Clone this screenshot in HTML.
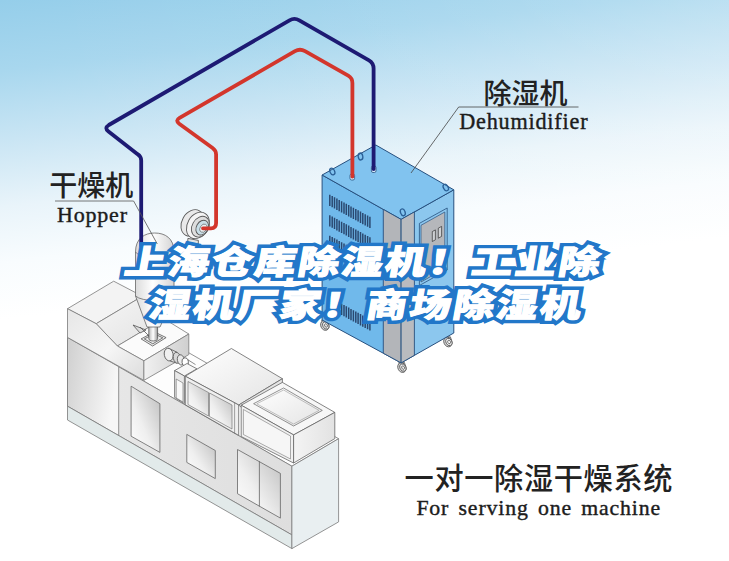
<!DOCTYPE html>
<html lang="zh-CN">
<head>
<meta charset="utf-8">
<title>上海仓库除湿机！工业除湿机厂家！商场除湿机</title>
<style>
html,body{margin:0;padding:0;background:#fff;}
body{width:729px;height:561px;overflow:hidden;position:relative;font-family:"Liberation Sans","Noto Sans CJK SC",sans-serif;}
#stage{position:absolute;left:0;top:0;width:729px;height:561px;overflow:hidden;
  background:
    linear-gradient(90deg, rgba(255,255,255,0) 0%, rgba(255,255,255,0.02) 40%, rgba(255,255,255,0.08) 70%, rgba(255,255,255,0.18) 100%),
    linear-gradient(173.55deg, #95ceea 0px, #a8d7ee 70px, #c9e5f4 139px, #e9f4fa 206px, #f8fcfe 261px, #ffffff 318px);}
svg{position:absolute;left:0;top:0;}
.cn{font-family:"Liberation Sans","Noto Sans CJK SC",sans-serif;fill:#222;}
.en{font-family:"Liberation Serif","Noto Serif CJK SC",serif;fill:#1c1c1c;stroke:#1c1c1c;stroke-width:0.4px;}
.title{position:absolute;left:0;top:0;width:729px;height:0;margin:0;
  font-family:"Liberation Sans","Noto Sans CJK SC",sans-serif;font-weight:900;font-size:33.3px;line-height:44px;
  letter-spacing:1.7px;color:#fff;paint-order:stroke fill;white-space:nowrap;}
.title span{display:block;position:absolute;left:0;width:729px;height:44px;text-align:center;text-indent:1.7px;
  transform:skewX(-10deg) scaleX(1.24);transform-origin:364.5px 22px;}
.title .l1{top:241px;left:-1.8px;}
.title .l2{top:284px;left:0.5px;}
.t-out{-webkit-text-stroke:7.9px #2277c9;}
.t-in{-webkit-text-stroke:0.9px #fff;}
</style>
</head>
<body>
<div id="stage">
<svg width="729" height="561" viewBox="0 0 729 561">
<defs>
<linearGradient id="gFront" x1="0" y1="0" x2="1" y2="0"><stop offset="0" stop-color="#e9e9e9"/><stop offset="1" stop-color="#dedede"/></linearGradient>
<linearGradient id="gPanelL" x1="0" y1="0" x2="1" y2="0.3"><stop offset="0" stop-color="#cfcfcf"/><stop offset="1" stop-color="#f7f7f7"/></linearGradient>
<linearGradient id="gDoor" x1="1" y1="0" x2="0" y2="1"><stop offset="0" stop-color="#bbbbbb"/><stop offset="0.6" stop-color="#efefef"/><stop offset="1" stop-color="#ffffff"/></linearGradient>
<linearGradient id="gSlope" x1="0" y1="0" x2="1" y2="1"><stop offset="0" stop-color="#f6f6f6"/><stop offset="1" stop-color="#e2e2e2"/></linearGradient>
<linearGradient id="gHouse" x1="0" y1="0" x2="1" y2="1"><stop offset="0" stop-color="#e6e6e6"/><stop offset="0.55" stop-color="#f6f6f6"/><stop offset="1" stop-color="#dcdcdc"/></linearGradient>
<linearGradient id="gEnd" x1="0" y1="0" x2="1" y2="0"><stop offset="0" stop-color="#f1f1f1"/><stop offset="1" stop-color="#cfcfcf"/></linearGradient>
<linearGradient id="gEnd2" x1="0" y1="0" x2="1" y2="0"><stop offset="0" stop-color="#f4f4f4"/><stop offset="1" stop-color="#e2e2e2"/></linearGradient>
<linearGradient id="gTop" x1="0" y1="0" x2="1" y2="1"><stop offset="0" stop-color="#ffffff"/><stop offset="1" stop-color="#e4e4e4"/></linearGradient>
<linearGradient id="gNeck" x1="0" y1="0" x2="1" y2="0"><stop offset="0" stop-color="#bbb"/><stop offset="0.5" stop-color="#fff"/><stop offset="1" stop-color="#999"/></linearGradient>
<linearGradient id="gHop" x1="0" y1="0" x2="1" y2="0"><stop offset="0" stop-color="#dcdcdc"/><stop offset="0.45" stop-color="#ffffff"/><stop offset="1" stop-color="#d4d4d4"/></linearGradient>
</defs>
<g id="machine"><polygon points="67.5,337.4 291.9,466.2 338.6,438.7 114.2,310.0" fill="#fdfdfd" stroke="#7a7a7a" stroke-width="0.8" stroke-linejoin="round" />
<polygon points="67.5,337.4 291.9,466.2 291.9,534.9 67.5,406.2" fill="url(#gFront)" stroke="#7a7a7a" stroke-width="0.8" stroke-linejoin="round" />
<polygon points="67.5,337.4 118.7,366.7 118.7,435.5 67.5,406.2" fill="url(#gPanelL)" stroke="#7a7a7a" stroke-width="0.8" stroke-linejoin="round" />
<polygon points="67.5,406.2 291.9,534.9 291.9,548.6 67.5,420.0" fill="#e2eaea" stroke="#7a7a7a" stroke-width="0.8" stroke-linejoin="round" />
<polygon points="291.9,466.2 338.6,438.7 338.6,521.9 291.9,548.6" fill="#e9eff1" stroke="#7a7a7a" stroke-width="0.8" stroke-linejoin="round" />
<polygon points="131.1,386.2 159.9,403.7 159.9,452.4 131.1,436.2" fill="url(#gDoor)" stroke="#666" stroke-width="0.8" stroke-linejoin="round" />
<polygon points="186.8,434.4 215.3,450.5 215.3,478.6 186.8,462.4" fill="url(#gDoor)" stroke="#666" stroke-width="0.8" stroke-linejoin="round" />
<polygon points="237.5,449.5 280.4,473.4 280.4,518.1 237.5,493.7" fill="url(#gDoor)" stroke="#666" stroke-width="0.8" stroke-linejoin="round" />
<polyline points="259.4,461.6 259.4,506.2" fill="none" stroke="#666" stroke-width="0.8" stroke-linejoin="round" stroke-linecap="round" />
<polygon points="67.5,308.7 113.7,281.2 142.4,296.2 96.2,323.7" fill="#f3f3f3" stroke="#7a7a7a" stroke-width="0.8" stroke-linejoin="round" />
<polygon points="96.2,323.7 142.4,296.2 163.6,318.5 117.4,346.0" fill="url(#gSlope)" stroke="#7a7a7a" stroke-width="0.8" stroke-linejoin="round" />
<polygon points="117.4,346.0 163.6,318.5 188.8,334.0 143.9,360.8" fill="#fbfbfb" stroke="#7a7a7a" stroke-width="0.8" stroke-linejoin="round" />
<polygon points="67.5,308.7 96.2,323.7 117.4,346.0 143.9,360.8 143.9,380.4 67.5,337.4" fill="url(#gHouse)" stroke="#7a7a7a" stroke-width="0.8" stroke-linejoin="round" />
<polygon points="143.9,360.8 188.8,334.0 188.8,354.6 143.9,380.4" fill="url(#gEnd)" stroke="#7a7a7a" stroke-width="0.8" stroke-linejoin="round" />
<g stroke="#5c5c5c" stroke-width="0.85" fill="#e3e3e3"><path d="M167.2,348.6 L177.2,352.6 L177.2,363.2 L169.6,360.7 Z" stroke="none"/><path d="M168.6,348.3 L177.4,352.4 M170,360.9 L176.8,363.2" fill="none"/><ellipse cx="168.7" cy="354.6" rx="4.4" ry="6.4" fill="#f0f0f0" transform="rotate(-12 168.7 354.6)"/><ellipse cx="176.9" cy="357.8" rx="3.6" ry="5.5" fill="#d8d8d8" transform="rotate(-12 176.9 357.8)"/><ellipse cx="180.9" cy="359.9" rx="3.5" ry="5.2" fill="#e9e9e9" transform="rotate(-12 180.9 359.9)"/><ellipse cx="185.2" cy="361.9" rx="3.2" ry="4" fill="#ffffff" transform="rotate(-12 185.2 361.9)"/><path d="M187.6,359.6 L195.5,364.6 M187.2,364.6 L194,368.6" fill="none" stroke-width="0.7"/></g>
<polygon points="174.6,370.6 187.0,363.5 196.9,368.8 184.4,376.0" fill="#f6f6f6" stroke="#666" stroke-width="0.8" stroke-linejoin="round" />
<polygon points="174.6,370.6 184.4,376.0 184.4,403.6 174.6,397.4" fill="#e9e9e9" stroke="#666" stroke-width="0.8" stroke-linejoin="round" />
<polygon points="176.2,379.0 183.0,383.0 183.0,402.0 176.2,398.0" fill="#f8f8f8" stroke="#666" stroke-width="0.6" stroke-linejoin="round" />
<polygon points="185.3,376.2 231.4,348.5 282.4,378.7 238.7,405.0" fill="url(#gTop)" stroke="#666" stroke-width="0.8" stroke-linejoin="round" />
<polygon points="185.3,376.2 238.7,405.0 238.7,435.4 185.3,404.8" fill="#efefef" stroke="#666" stroke-width="0.8" stroke-linejoin="round" />
<polygon points="188.0,381.5 208.5,392.5 208.5,416.0 188.0,404.5" fill="url(#gDoor)" stroke="#666" stroke-width="0.6" stroke-linejoin="round" />
<polygon points="209.5,393.0 232.0,405.0 232.0,429.0 209.5,416.5" fill="url(#gDoor)" stroke="#666" stroke-width="0.6" stroke-linejoin="round" />
<polyline points="234.6,403.0 234.6,433.0" fill="none" stroke="#666" stroke-width="0.6" stroke-linejoin="round" stroke-linecap="round" />
<polygon points="238.7,405.0 282.4,378.7 282.4,384.0 241.5,407.5" fill="#e4e4e4" stroke="#666" stroke-width="0.8" stroke-linejoin="round" />
<polygon points="241.2,405.2 282.4,382.4 334.8,412.4 293.6,434.9" fill="#f7f7f7" stroke="#666" stroke-width="0.8" stroke-linejoin="round" />
<polygon points="253.6,403.7 283.6,388.0 322.3,410.4 293.6,426.0" fill="url(#gTop)" stroke="#666" stroke-width="0.7" stroke-linejoin="round" />
<polygon points="256.8,403.8 283.6,390.0 319.0,410.4 293.6,424.0" fill="none" stroke="#888" stroke-width="0.5" stroke-linejoin="round" />
<polygon points="241.2,405.2 293.6,434.9 293.6,463.0 241.2,436.5" fill="#f1f1f1" stroke="#666" stroke-width="0.8" stroke-linejoin="round" />
<polygon points="243.4,409.5 290.5,436.0 290.5,459.0 243.4,434.5" fill="#f6f6f6" stroke="#777" stroke-width="0.6" stroke-linejoin="round" />
<polygon points="293.6,434.9 334.8,412.4 334.8,438.6 293.6,463.0" fill="url(#gEnd2)" stroke="#666" stroke-width="0.8" stroke-linejoin="round" />
<g stroke="#555" stroke-width="0.8" fill="#ededed"><polygon points="141.1,338.9 154.4,331.9 166.1,337.6 152.6,346"/><polygon points="144.3,338.9 154.2,333.8 162.8,337.8 152.8,343.8"/><path d="M148.8,326 L148.8,338.5 A4.3,2.4 0 0 0 157.6,338.5 L157.6,326 Z" fill="url(#gNeck)"/><path d="M133,325 L146,330 L140,333 Z" fill="#ddd"/><path d="M140,327 L149,336" /></g>
<g stroke="#666" stroke-width="0.8"><path d="M135.5,252 C135.5,238 145,233 154.6,233 C165,233 174,238 174,252 L174,296 L160,327 L147,327 L135.5,296 Z" fill="url(#gHop)"/><path d="M135.5,252 C140,259 169,259 174,252" fill="none"/><path d="M135.5,296 C142,302 167,302 174,296" fill="none"/></g></g>
<g id="dehum"><g stroke="#555" stroke-width="0.8"><path d="M321.6,320.3 L327.3,320.3 L328.6,324.5 L322.8,324.5 Z" fill="#cfcfcf"/><ellipse cx="324.8" cy="325.5" rx="4" ry="5" fill="#d4d4d4" transform="rotate(-25 324.8 325.5)"/><ellipse cx="325.7" cy="325.9" rx="2.9" ry="3.8" fill="#efefef" transform="rotate(-25 324.8 325.5)"/><ellipse cx="325.90000000000003" cy="326.0" rx="1.3" ry="1.8" fill="#fff" transform="rotate(-25 324.8 325.5)"/></g>
<g stroke="#555" stroke-width="0.8"><path d="M398.7,362.40000000000003 L404.4,362.40000000000003 L405.7,366.6 L399.9,366.6 Z" fill="#cfcfcf"/><ellipse cx="401.9" cy="367.6" rx="4" ry="5" fill="#d4d4d4" transform="rotate(-25 401.9 367.6)"/><ellipse cx="402.79999999999995" cy="368.0" rx="2.9" ry="3.8" fill="#efefef" transform="rotate(-25 401.9 367.6)"/><ellipse cx="403.0" cy="368.1" rx="1.3" ry="1.8" fill="#fff" transform="rotate(-25 401.9 367.6)"/></g>
<g stroke="#555" stroke-width="0.8"><path d="M444.7,336.8 L450.4,336.8 L451.7,341 L445.9,341 Z" fill="#cfcfcf"/><ellipse cx="447.9" cy="342" rx="4" ry="5" fill="#d4d4d4" transform="rotate(-25 447.9 342)"/><ellipse cx="448.79999999999995" cy="342.4" rx="2.9" ry="3.8" fill="#efefef" transform="rotate(-25 447.9 342)"/><ellipse cx="449.0" cy="342.5" rx="1.3" ry="1.8" fill="#fff" transform="rotate(-25 447.9 342)"/></g>
<polygon points="322.1,175.0 401.1,219.4 401.1,362.9 322.1,320.0" fill="#70b9eb" stroke="#27507f" stroke-width="1" stroke-linejoin="round" />
<polygon points="401.1,219.4 453.8,189.8 453.8,333.0 401.1,362.9" fill="#8cc7ee" stroke="#27507f" stroke-width="1" stroke-linejoin="round" />
<polygon points="322.1,175.0 375.8,145.0 453.8,189.8 401.1,219.4" fill="#81c3ef" stroke="#27507f" stroke-width="1" stroke-linejoin="round" />
<polygon points="383.3,209.4 401.1,219.4 401.1,362.9 383.3,353.2" fill="#b3b5b9" stroke="#27507f" stroke-width="0.9" stroke-linejoin="round" />
<polygon points="401.1,219.4 414.4,211.9 414.4,355.3 401.1,362.9" fill="#b9bbbf" stroke="#27507f" stroke-width="0.9" stroke-linejoin="round" />
<polygon points="419.4,223.4 447.2,208.0 447.2,270.0 419.4,285.5" fill="#8cc7ee" stroke="#27507f" stroke-width="0.8" stroke-linejoin="round" />
<polygon points="421.0,225.3 444.8,212.0 444.8,268.5 421.0,282.0" fill="#b5b7bb" stroke="#27507f" stroke-width="0.7" stroke-linejoin="round" />
<polygon points="432.3,231.6 435.4,229.9 435.4,239.8 432.3,241.5" fill="#cfd1d4" stroke="#333" stroke-width="0.7" stroke-linejoin="round" />
<polygon points="438.3,228.2 441.6,226.4 441.6,236.4 438.3,238.2" fill="#cfd1d4" stroke="#333" stroke-width="0.7" stroke-linejoin="round" />
<path d="M329.8,194.7v11.3 M332.2,196.0v11.3 M334.5,197.3v11.3 M336.9,198.6v11.3 M339.2,199.9v11.3 M341.6,201.2v11.3 M344.0,202.5v11.3 M346.3,203.8v11.3 M348.7,205.1v11.3 M351.0,206.4v11.3 M353.4,207.7v11.3 M355.8,209.0v11.3 M358.1,210.3v11.3 M360.5,211.6v11.3 M362.8,212.9v11.3 M365.2,214.2v11.3 M367.6,215.5v11.3 M369.9,216.8v11.3 M329.8,215.2v11.3 M332.2,216.5v11.3 M334.5,217.8v11.3 M336.9,219.1v11.3 M339.2,220.4v11.3 M341.6,221.7v11.3 M344.0,223.0v11.3 M346.3,224.3v11.3 M348.7,225.6v11.3 M351.0,226.9v11.3 M353.4,228.2v11.3 M355.8,229.5v11.3 M358.1,230.8v11.3 M360.5,232.1v11.3 M362.8,233.4v11.3 M365.2,234.7v11.3 M367.6,236.0v11.3 M369.9,237.3v11.3 M329.8,235.7v11.3 M332.2,237.0v11.3 M334.5,238.3v11.3 M336.9,239.6v11.3 M339.2,240.9v11.3 M341.6,242.2v11.3 M344.0,243.5v11.3 M346.3,244.8v11.3 M348.7,246.1v11.3 M351.0,247.4v11.3 M353.4,248.7v11.3 M355.8,250.0v11.3 M358.1,251.3v11.3 M360.5,252.6v11.3 M362.8,253.9v11.3 M365.2,255.2v11.3 M367.6,256.5v11.3 M369.9,257.8v11.3 M329.8,297.2v11.3 M332.2,298.5v11.3 M334.5,299.8v11.3 M336.9,301.1v11.3 M339.2,302.4v11.3 M341.6,303.7v11.3 M344.0,305.0v11.3 M346.3,306.3v11.3 M348.7,307.6v11.3 M351.0,308.9v11.3 M353.4,310.2v11.3 M355.8,311.5v11.3 M358.1,312.8v11.3 M360.5,314.1v11.3 M362.8,315.4v11.3 M365.2,316.7v11.3 M367.6,318.0v11.3 M369.9,319.3v11.3" stroke="#2a4870" stroke-width="1.5" fill="none"/>
<ellipse cx="332.3" cy="171.5" rx="2.3" ry="3.5" fill="none" stroke="#2a5f96" stroke-width="1.3" transform="rotate(-25 332.3 171.5)"/>
<ellipse cx="360.5" cy="156.5" rx="2.3" ry="3.5" fill="none" stroke="#2a5f96" stroke-width="1.3" transform="rotate(-10 360.5 156.5)"/>
<ellipse cx="402.8" cy="212.3" rx="2.3" ry="3.5" fill="none" stroke="#2a5f96" stroke-width="1.3" transform="rotate(-20 402.8 212.3)"/>
<ellipse cx="445.8" cy="187.5" rx="2.3" ry="3.5" fill="none" stroke="#2a5f96" stroke-width="1.3" transform="rotate(-30 445.8 187.5)"/>
<rect x="350" y="174" width="4.6" height="6" rx="1.6" fill="#d6ecfa" stroke="#27507f" stroke-width="0.8"/>
<rect x="371.4" y="166" width="4.6" height="6.5" rx="1.6" fill="#d6ecfa" stroke="#27507f" stroke-width="0.8"/></g>
<g id="blower" stroke="#5a5a5a" stroke-width="0.9" transform="translate(2.4,0.4)"><path d="M185.5,238 L185,250 L195.5,250 L196,240 Z" fill="#e4e4e4"/><ellipse cx="190" cy="222.5" rx="10.5" ry="14" fill="#e9e9e9" transform="rotate(30 190 222.5)"/><path d="M181.2,229.8 L187.5,233.6 L207.3,221.2 L199.5,213.2 Z" fill="#e9e9e9" stroke="none"/><ellipse cx="195.5" cy="225" rx="10.5" ry="14" fill="#f4f4f4" transform="rotate(30 195.5 225)"/><ellipse cx="198" cy="226.3" rx="8.2" ry="11" fill="#dedede" transform="rotate(30 198 226.3)"/><ellipse cx="199.8" cy="227.2" rx="5.8" ry="7.8" fill="#c9dfe8" transform="rotate(30 199.8 227.2)"/><ellipse cx="201" cy="227.8" rx="3.2" ry="4.4" fill="#e8f2f5" stroke-width="0.6" transform="rotate(30 201 227.8)"/></g>
<path d="M141.2,246 L141.2,160.5 Q141.2,156.5 137.6,154.2 L108.5,131.5 Q104,128 108.8,125 L289.5,20.3 Q294.4,17.4 299.3,20.3 L369,60.3 Q373.6,63 373.6,68.5 L373.6,169" fill="none" stroke="#1d1a73" stroke-width="3.8" stroke-linejoin="round" stroke-linecap="round"/>
<path d="M203,228.3 L211,228.3 Q216.1,228.3 216.1,223 L216.1,154.5 Q216.1,150.5 212.6,148 L179.2,123.8 Q175,120.6 179.6,117.8 L295,51.2 Q300,48.3 305,51.2 L348.2,75.6 Q352.4,78 352.4,83 L352.4,176.5" fill="none" stroke="#d3362c" stroke-width="3.8" stroke-linejoin="round" stroke-linecap="round"/>
<polyline points="55,201 133.6,201 157.3,244" fill="none" stroke="#555" stroke-width="0.8"/>
<polyline points="578.5,107 458.7,107 411,173" fill="none" stroke="#444" stroke-width="0.8"/>
<text class="cn" x="49.3" y="196.1" font-size="28" font-weight="500">干燥机</text>
<text class="en" x="57" y="222.4" font-size="22" letter-spacing="0.8">Hopper</text>
<text class="cn" x="483.4" y="103.7" font-size="28" font-weight="500">除湿机</text>
<text class="en" x="459.2" y="129.1" font-size="22.2" letter-spacing="0.8">Dehumidifier</text>
<text class="cn" x="404.6" y="488.7" font-size="29.2" font-weight="500" letter-spacing="0.65">一对一除湿干燥系统</text>
<text class="en" x="416.4" y="514.9" font-size="21.8" letter-spacing="0.85" word-spacing="3">For serving one machine</text>
</svg>
<div class="title t-out" aria-hidden="true"><span class="l1">上海仓库除湿机！工业除</span><span class="l2">湿机厂家！商场除湿机</span></div>
<h1 class="title t-in"><span class="l1">上海仓库除湿机！工业除</span><span class="l2">湿机厂家！商场除湿机</span></h1>
</div>
</body>
</html>
